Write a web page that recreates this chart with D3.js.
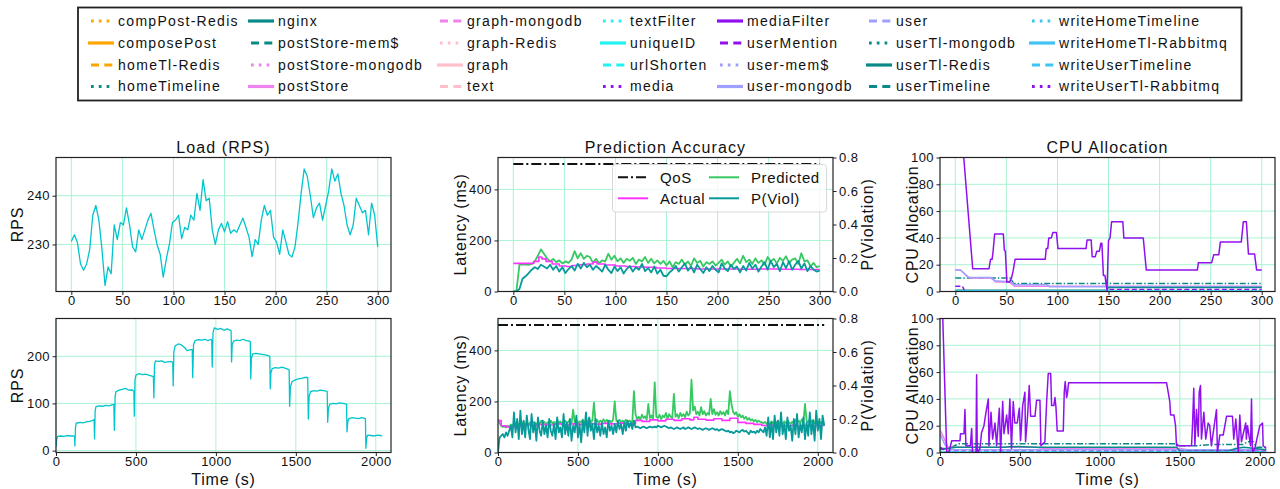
<!DOCTYPE html>
<html>
<head>
<meta charset="utf-8">
<script src="https://cdn.jsdelivr.net/npm/d3@7"></script>
<style>
  body { margin: 0; background: #fff; }
  text { font-family: "Liberation Sans", Arial, sans-serif; fill: #111; }
</style>
</head>
<body>
<svg id="chart" width="1280" height="489"></svg>
<script>
// ---- legend of services (column-major, 4 rows x 7 columns)
var serviceNames = ["compPost-Redis", "composePost", "homeTl-Redis", "homeTimeline",
  "nginx", "postStore-mem$", "postStore-mongodb", "postStore",
  "graph-mongodb", "graph-Redis", "graph", "text",
  "textFilter", "uniqueID", "urlShorten", "media",
  "mediaFilter", "userMention", "user-mem$", "user-mongodb",
  "user", "userTl-mongodb", "userTl-Redis", "userTimeline",
  "writeHomeTimeline", "writeHomeTl-Rabbitmq", "writeUserTimeline", "writeUserTl-Rabbitmq"];
var serviceColors = ["#ffa500", "#ffa500", "#ffa500", "#088a88",
  "#088a88", "#088a88", "#ee82ee", "#ee82ee",
  "#ee82ee", "#ffc0cb", "#ffc0cb", "#ffc0cb",
  "#22f2f2", "#22f2f2", "#22f2f2", "#9010ee",
  "#9010ee", "#9010ee", "#9f9fff", "#9f9fff",
  "#9f9fff", "#088a88", "#088a88", "#088a88",
  "#3ec3f3", "#3ec3f3", "#3ec3f3", "#9010ee"];
var serviceStyles = ["dot", "solid", "dash", "dot",
  "solid", "dash", "dot", "solid",
  "dash", "dot", "solid", "dash",
  "dot", "solid", "dash", "dot",
  "solid", "dash", "dot", "solid",
  "dash", "dot", "solid", "dash",
  "dot", "solid", "dash", "dot"];

// ---- Load (RPS), short run: one value every 3 s
var loadShortStep = 3;
var loadShortRps = [230.6, 232, 230.4, 226, 224.7, 226, 229, 236, 238, 235,
  229, 221.6, 225.4, 224, 234, 231, 234.5, 234, 237.5, 234,
  229.5, 228.5, 233, 231, 233, 235, 236.4, 233, 229.9, 228,
  223.3, 227, 230, 234.5, 235, 236, 231.2, 233.5, 233, 236,
  235, 240.5, 237, 243.3, 239, 239.5, 233, 230, 233, 234.3,
  232.6, 234.7, 232.3, 233, 232.5, 234, 235.4, 233.5, 231.5, 227.5,
  231, 230, 235, 238, 236, 237, 231.5, 230.5, 228, 233,
  230.6, 228, 227.4, 229.5, 234.5, 240.5, 245.5, 244, 240, 235.5,
  237.5, 238.5, 235, 238, 241, 245.5, 243, 244.5, 240.5, 238,
  234, 232, 234, 239.5, 238, 236.5, 237, 232, 238.5, 236, 229.5];

// ---- Load (RPS), long run: [time s, rps]
var loadLong = [[0,8],[5,25],[10,30],[30,31],[50,30],[70,32],[90,31],[110,31],[116,30],[118,10],
  [122,50],[126,58],[150,60],[170,59],[190,61],[210,62],[230,64],[238,66],[241,25],[245,85],
  [250,93],[270,95],[290,94],[310,96],[330,95],[350,97],[362,98],[365,43],[370,115],[375,125],
  [395,128],[415,130],[435,132],[455,128],[475,129],[487,126],[490,73],[494,150],[500,160],[520,163],
  [540,161],[560,162],[580,160],[600,158],[609,157],[612,112],[616,180],[622,190],[640,189],[660,190],
  [680,187],[700,188],[720,189],[730,187],[733,137],[737,210],[745,222],[765,226],[785,224],[805,218],
  [820,212],[845,214],[852,214],[855,155],[860,225],[870,233],[890,235],[910,234],[930,236],[950,233],
  [970,236],[974,232],[977,177],[982,250],[990,260],[1010,257],[1030,259],[1050,255],[1070,258],[1090,255],
  [1095,254],[1098,188],[1102,225],[1110,232],[1130,234],[1150,233],[1170,236],[1190,233],[1210,232],[1215,231],
  [1218,152],[1222,195],[1230,205],[1250,206],[1270,205],[1290,204],[1310,203],[1330,201],[1337,200],[1340,131],
  [1344,165],[1352,174],[1372,176],[1392,175],[1412,177],[1432,175],[1452,172],[1458,171],[1461,94],[1466,135],
  [1476,146],[1496,150],[1516,152],[1536,153],[1556,155],[1574,155],[1578,67],[1583,115],[1592,125],[1612,127],
  [1632,126],[1652,128],[1672,127],[1692,126],[1696,125],[1699,60],[1704,90],[1712,98],[1732,100],[1752,99],
  [1772,101],[1792,100],[1812,99],[1817,98],[1820,40],[1825,62],[1832,68],[1852,70],[1872,69],[1892,68],
  [1912,70],[1935,68],[1938,5],[1943,28],[1950,33],[1970,32],[1990,31],[2010,33],[2030,32],[2040,31]];

// ---- Prediction accuracy, short run (every 3 s)
var qosLatency = 500;
var predShortStep = 3;
var predictedShort = [0, 0, 105, 105, 106, 104, 108, 118, 140, 165,
  148, 130, 118, 128, 115, 122, 110, 118, 112, 125,
  158, 130, 150, 128, 140, 135, 112, 128, 110, 122,
  118, 148, 125, 140, 118, 130, 112, 128, 120, 132,
  108, 125, 118, 135, 112, 128, 110, 122, 108, 120,
  102, 118, 95, 115, 108, 125, 105, 118, 100, 130,
  112, 120, 98, 115, 108, 118, 102, 112, 125, 105,
  118, 98, 112, 128, 110, 140, 115, 125, 108, 130,
  112, 122, 105, 135, 118, 128, 110, 132, 120, 138,
  112, 125, 130, 108, 150, 118, 122, 98, 112, 95, 100];
var pViolShort = [0, 0, 0.015, 0.076, 0.091, 0.11, 0.13, 0.145, 0.134, 0.16,
  0.149, 0.137, 0.16, 0.13, 0.152, 0.119, 0.145, 0.11, 0.134, 0.152,
  0.125, 0.165, 0.137, 0.171, 0.145, 0.16, 0.13, 0.152, 0.137, 0.119,
  0.16, 0.13, 0.11, 0.149, 0.122, 0.145, 0.107, 0.134, 0.152, 0.119,
  0.145, 0.13, 0.165, 0.122, 0.14, 0.114, 0.149, 0.107, 0.13, 0.094,
  0.091, 0.114, 0.13, 0.152, 0.119, 0.145, 0.168, 0.125, 0.149, 0.114,
  0.16, 0.134, 0.11, 0.145, 0.122, 0.152, 0.13, 0.114, 0.168, 0.137,
  0.122, 0.16, 0.134, 0.149, 0.114, 0.152, 0.125, 0.171, 0.137, 0.16,
  0.119, 0.149, 0.175, 0.13, 0.183, 0.145, 0.165, 0.122, 0.175, 0.14,
  0.18, 0.13, 0.16, 0.183, 0.137, 0.168, 0.122, 0.152, 0.13, 0.119, 0.125];
var actualShort = [[0,110],[17,110],[20,118],[25,135],[28,128],[32,118],[38,108],[45,100],[52,98],[58,102],
  [65,105],[72,108],[78,115],[82,108],[90,104],[100,100],[110,98],[120,96],[130,95],[140,92],
  [150,90],[165,90],[180,88],[200,88],[220,87],[240,88],[260,87],[280,86],[300,86]];

// ---- Prediction accuracy, long run (every 10 s)
var predLongStep = 10;
var predictedLong = [130, 115, 105, 100, 102, 98, 105, 100, 110, 105,
  112, 108, 115, 110, 118, 112, 120, 110, 115, 108,
  118, 112, 120, 115, 110, 118, 112, 125, 115, 120,
  110, 118, 112, 125, 115, 120, 110, 128, 115, 122,
  110, 118, 125, 115, 120, 130, 112, 168, 118, 125,
  115, 122, 118, 130, 115, 125, 120, 135, 118, 125,
  195, 120, 128, 115, 125, 120, 130, 118, 128, 122,
  125, 118, 130, 200, 125, 120, 128, 118, 125, 120,
  128, 118, 125, 122, 118, 240, 150, 130, 140, 128,
  148, 135, 142, 128, 190, 135, 145, 130, 275, 140,
  135, 148, 130, 145, 138, 155, 132, 150, 140, 135,
  230, 140, 150, 135, 155, 142, 150, 138, 160, 145,
  152, 285, 165, 180, 150, 160, 145, 178, 150, 162,
  145, 155, 148, 210, 150, 170, 148, 158, 145, 162,
  150, 158, 145, 165, 150, 240, 190, 160, 150, 158,
  140, 150, 138, 145, 132, 140, 128, 135, 125, 130,
  122, 128, 118, 125, 120, 118, 115, 120, 112, 118,
  110, 122, 115, 120, 112, 125, 115, 118, 110, 122,
  115, 125, 118, 112, 120, 115, 128, 118, 125, 115,
  130, 120, 190, 125, 118, 130, 120, 128, 115, 125,
  118, 122, 115, 120, 110];
var pViolLong = [0, 0.09, 0.1, 0.11, 0.09, 0.12, 0.1, 0.13, 0.16, 0.09,
  0.24, 0.12, 0.2, 0.08, 0.25, 0.11, 0.19, 0.09, 0.22, 0.14,
  0.08, 0.23, 0.12, 0.18, 0.07, 0.21, 0.13, 0.1, 0.19, 0.11,
  0.16, 0.09, 0.2, 0.13, 0.1, 0.17, 0.08, 0.21, 0.12, 0.15,
  0.09, 0.23, 0.11, 0.18, 0.1, 0.2, 0.07, 0.16, 0.12, 0.22,
  0.09, 0.17, 0.06, 0.19, 0.12, 0.24, 0.1, 0.21, 0.13, 0.17,
  0.08, 0.2, 0.12, 0.16, 0.1, 0.18, 0.11, 0.15, 0.09, 0.19,
  0.13, 0.16, 0.11, 0.17, 0.12, 0.19, 0.14, 0.17, 0.11, 0.18,
  0.13, 0.19, 0.15, 0.18, 0.14, 0.19, 0.15, 0.155, 0.15, 0.145,
  0.15, 0.155, 0.15, 0.145, 0.15, 0.155, 0.15, 0.15, 0.155, 0.15,
  0.16, 0.155, 0.15, 0.155, 0.16, 0.155, 0.15, 0.145, 0.15, 0.145,
  0.14, 0.145, 0.15, 0.145, 0.14, 0.145, 0.15, 0.14, 0.145, 0.15,
  0.145, 0.14, 0.145, 0.15, 0.145, 0.14, 0.145, 0.14, 0.135, 0.14,
  0.145, 0.14, 0.135, 0.14, 0.145, 0.14, 0.135, 0.14, 0.13, 0.135,
  0.14, 0.135, 0.13, 0.125, 0.13, 0.12, 0.125, 0.115, 0.12, 0.13,
  0.125, 0.12, 0.13, 0.135, 0.125, 0.13, 0.12, 0.11, 0.13, 0.12,
  0.125, 0.115, 0.13, 0.12, 0.14, 0.13, 0.12, 0.15, 0.1, 0.21,
  0.09, 0.18, 0.08, 0.22, 0.12, 0.19, 0.1, 0.24, 0.11, 0.17,
  0.08, 0.21, 0.13, 0.16, 0.07, 0.2, 0.11, 0.23, 0.09, 0.17,
  0.12, 0.21, 0.08, 0.18, 0.1, 0.24, 0.11, 0.19, 0.07, 0.25,
  0.13, 0.2, 0.08, 0.22, 0.16];
var actualLong = [[0,125],[20,105],[50,100],[100,104],[150,108],[200,106],[250,110],[300,108],[350,112],[400,108],
  [450,112],[500,110],[550,113],[600,111],[650,114],[700,112],[750,115],[800,112],[850,114],[860,126],
  [900,122],[950,128],[1000,124],[1050,130],[1100,126],[1150,132],[1200,128],[1225,138],[1250,130],[1300,127],
  [1350,132],[1400,126],[1450,134],[1500,118],[1550,114],[1600,110],[1650,106],[1700,108],[1750,104],[1800,107],
  [1850,103],[1900,106],[1950,104],[2000,106],[2040,104]];

// ---- CPU allocation, short run: [time s, cpu]
var cpuShort = {
  "userTl-mongodb": [[0,10],[54,10],[57,6],[300,6]],
  "postStore": [[0,16],[5,16],[12,11],[15,10],[35,10],[40,7],[53,7],[58,4],[300,4]],
  "user-mongodb": [[0,16],[5,16],[13,10.5],[35,10.5],[39,8],[55,7],[58,5],[90,5],[92,3.5],[300,3.5]],
  "userTl-Redis": [[0,1],[148,1],[150,3],[300,3]],
  "userMention": [[0,4],[7,4],[9,0.5],[148,0.5],[150,1.5],[300,1.5]],
  "uniqueID": [[0,0.3],[300,0.3]],
  "writeHomeTimeline": [[0,0.6],[300,0.6]],
  "mediaFilter": [[7,112],[17,17],[33,17],[34.5,24],[36,24],[37,30],[38.5,43],[47,43],[48,31],[49,30],
    [50.5,7],[53,7],[55,10],[56.5,15],[58.5,24],[88,24],[89,32],[90.5,32],[91.5,40],[94,40],
    [95.5,44],[99,44],[100.5,32],[128,32],[129,38.5],[133,38.5],[134,26],[137,26],[138.5,30],[141,30],
    [142.5,36],[143.5,36],[145,12],[146.5,12],[148.5,1],[150,38],[151.5,40],[153,52],[164,52],[165,40],
    [184,40],[185.5,28],[187,16],[237,16],[238,21.5],[251,21.5],[253,27.5],[258,27.5],[259.5,37],[280,37],
    [282,52],[285,52],[287,28],[293,28],[295,16],[300,16]]
};
// ---- CPU allocation, long run
var cpuLong = {
  "userTl-mongodb": [[0,3],[50,3],[90,5],[120,6.5],[1480,6.5],[1500,5],[1600,5],[1700,6],[1900,6],[1920,8],[1960,8],[1980,4],[2040,4]],
  "postStore": [[0,17],[20,12],[50,4],[600,4],[650,3],[1500,3],[1550,2],[2040,2]],
  "user-mongodb": [[0,14],[30,6],[60,2],[2040,2]],
  "userTl-Redis": [[0,2],[100,4],[400,4],[450,4.5],[600,4],[1480,4],[1500,1],[1800,1],[1850,3],[1900,4],[2040,2]],
  "userMention": [[0,4],[40,1],[2040,1]],
  "uniqueID": [[0,0.3],[2040,0.3]],
  "writeHomeTimeline": [[0,0.6],[2040,0.6]],
  "mediaFilter": [[10,130],[42,0],[55,0],[73,8.7],[125,8.7],[128,14],[150,14],[156,32],[162,5],[190,5],
    [198,18],[203,0],[225,0],[229,58],[233,0],[250,3],[260,15],[275,20],[285,28],[302,40],
    [306,5],[319,30],[329,10],[344,22],[354,5],[371,33],[379,0],[392,38],[400,14],[417,28],
    [427,14],[437,40],[447,3],[458,38],[468,22],[483,22],[496,33],[504,9],[517,35],[531,45],
    [535,8],[548,28],[558,50],[567,27],[594,27],[604,39],[625,39],[631,5],[656,8],[667,38],
    [677,59],[692,59],[698,35],[712,35],[719,41],[725,34],[733,16],[771,16],[777,45],[783,53],
    [792,41],[798,45],[804,52],[1417,52],[1427,45],[1437,38],[1442,28],[1463,28],[1473,20],[1479,5],
    [1573,5],[1579,20],[1587,48],[1594,5],[1604,32],[1615,12],[1621,45],[1629,50],[1635,10],[1650,30],
    [1662,10],[1677,22],[1687,20],[1697,5],[1729,32],[1735,0],[1750,13],[1771,13],[1792,27],[1829,27],
    [1837,10],[1850,25],[1865,0],[1875,28],[1885,8],[1912,22],[1916,10],[1923,20],[1942,5],[1948,40],
    [1954,0],[1969,3],[2000,20],[2017,22],[2021,5],[2040,3]]
};

var shortTicks = [0, 50, 100, 150, 200, 250, 300];
var longTicks = [0, 500, 1000, 1500, 2000];

// ---- layout
var svg = d3.select("#chart");
var W = 335, H = 134;
var colX = [56, 498, 940], rowY = [157.5, 318.5];
var GRID = "#a9f3d2";
// legend handle dashes: [pattern, offset] so that each handle starts with a small gap
var dashOf = { solid: [null, 0], dot: ["2.7,5.1", 4.8], dash: ["8,5.3", 10.3] };

function styleAxis(a) {
  a.select(".domain").remove();
  a.selectAll(".tick line").attr("stroke", "#222");
  a.selectAll(".tick text").style("font-size", "13px").style("letter-spacing", "0.4px").attr("fill", "#111");
}

function panel(col, row, xDomain, yDomain, xTicks, yTicks, id) {
  var g = svg.append("g").attr("transform", "translate(" + colX[col] + "," + rowY[row] + ")");
  var x = d3.scaleLinear().domain(xDomain).range([0, W]);
  var y = d3.scaleLinear().domain(yDomain).range([H, 0]);
  var grid = g.append("g");
  grid.selectAll(".gx").data(xTicks).join("line")
    .attr("x1", function(d){return x(d);}).attr("x2", function(d){return x(d);})
    .attr("y1", 0).attr("y2", H).attr("stroke", GRID).attr("stroke-width", 1);
  grid.selectAll(".gy").data(yTicks).join("line")
    .attr("y1", function(d){return y(d);}).attr("y2", function(d){return y(d);})
    .attr("x1", 0).attr("x2", W).attr("stroke", GRID).attr("stroke-width", 1);
  svg.append("clipPath").attr("id", id).append("rect").attr("width", W).attr("height", H);
  var plot = g.append("g").attr("clip-path", "url(#" + id + ")");
  var ax = g.append("g").attr("transform", "translate(0," + H + ")")
    .call(d3.axisBottom(x).tickValues(xTicks).tickSize(3.5).tickPadding(0.5).tickFormat(d3.format("d")));
  var ay = g.append("g")
    .call(d3.axisLeft(y).tickValues(yTicks).tickSize(3.5).tickPadding(2.5).tickFormat(d3.format("d")));
  styleAxis(ax); styleAxis(ay);
  g.append("rect").attr("width", W).attr("height", H)
    .attr("fill", "none").attr("stroke", "#222").attr("stroke-width", 1.2);
  return { g: g, x: x, y: y, plot: plot };
}

function sampled(values, step) {
  return values.map(function(v, i){ return [i * step, v]; });
}

function drawLine(p, data, yScale, color, width, dash, curve) {
  var line = d3.line()
    .x(function(d){ return p.x(d[0]); })
    .y(function(d){ return yScale(d[1]); })
    .curve(curve || d3.curveLinear);
  p.plot.append("path").datum(data).attr("d", line)
    .attr("fill", "none").attr("stroke", color).attr("stroke-width", width)
    .attr("stroke-dasharray", dash).attr("stroke-linejoin", "round");
}

function yLabel(text, x, row) {
  svg.append("text").attr("transform", "translate(" + x + "," + (rowY[row] + H / 2) + ") rotate(-90)")
    .attr("text-anchor", "middle").attr("dominant-baseline", "central")
    .style("font-size", "16px").style("letter-spacing", "0.8px").text(text);
}

// ---- titles
[["Load (RPS)", 0], ["Prediction Accuracy", 1], ["CPU Allocation", 2]].forEach(function(t) {
  svg.append("text").attr("x", colX[t[1]] + W / 2).attr("y", rowY[0] - 5)
    .attr("text-anchor", "middle").style("font-size", "16px").style("letter-spacing", "1.1px").text(t[0]);
});
[0, 1, 2].forEach(function(c) {
  svg.append("text").attr("x", colX[c] + W / 2).attr("y", 485)
    .attr("text-anchor", "middle").style("font-size", "16px").style("letter-spacing", "0.8px").text("Time (s)");
});

// ---- Load panels
var LOAD = "#00c5cd";
var p1 = panel(0, 0, [-15, 313], [220.35, 247.85], shortTicks, [230, 240], "c1");
drawLine(p1, sampled(loadShortRps, loadShortStep), p1.y, LOAD, 1.3, null);
var p2 = panel(0, 1, [0, 2095], [-4, 280], longTicks, [0, 100, 200], "c2");
drawLine(p2, loadLong, p2.y, LOAD, 1.3, null);
yLabel("RPS", 17, 0);
yLabel("RPS", 17, 1);

// ---- Prediction panels
var GREEN = "#37c961", MAGENTA = "#ff33ff", TEAL = "#079a9a";
var QOSDASH = "10,3,2,3";
function predictionPanel(row, xDomain, xTicks, predicted, step, actual, pviol, id) {
  var p = panel(1, row, xDomain, [0, 525], xTicks, [0, 200, 400], id);
  var yP = d3.scaleLinear().domain([0, 0.8]).range([H, 0]);
  var ar = p.g.append("g").attr("transform", "translate(" + W + ",0)")
    .call(d3.axisRight(yP).tickValues([0, 0.2, 0.4, 0.6, 0.8]).tickSize(3.5).tickPadding(2.5).tickFormat(d3.format(".1f")));
  styleAxis(ar);
  var xMax = d3.max(actual, function(d){ return d[0]; });
  drawLine(p, [[0, qosLatency], [xMax, qosLatency]], p.y, "#111", 2, QOSDASH);
  drawLine(p, sampled(predicted, step), p.y, GREEN, 1.8, null);
  drawLine(p, actual, p.y, MAGENTA, 1.6, null, d3.curveStepAfter);
  drawLine(p, sampled(pviol, step), yP, TEAL, 1.8, null);
  yLabel("Latency (ms)", 460, row);
  yLabel("P(Violation)", 867, row);
  return p;
}
predictionPanel(0, [-15, 313], shortTicks, predictedShort, predShortStep, actualShort, pViolShort, "c3");
predictionPanel(1, [0, 2095], longTicks, predictedLong, predLongStep, actualLong, pViolLong, "c4");

// legend inside the short prediction panel
var lg = svg.append("g");
lg.append("rect").attr("x", 612.5).attr("y", 164.5).attr("width", 214).attr("height", 47.5).attr("rx", 3)
  .attr("fill", "#fff").attr("fill-opacity", 0.8).attr("stroke", "#d8d8d8");
var predLegend = [
  { label: "QoS", color: "#111", dash: QOSDASH, hx: 618, ty: 177.3 },
  { label: "Actual", color: MAGENTA, dash: null, hx: 618, ty: 198.3 },
  { label: "Predicted", color: GREEN, dash: null, hx: 709, ty: 177.3 },
  { label: "P(Viol)", color: TEAL, dash: null, hx: 709, ty: 198.3 }
];
predLegend.forEach(function(e) {
  lg.append("line").attr("x1", e.hx).attr("x2", e.hx + 30).attr("y1", e.ty).attr("y2", e.ty)
    .attr("stroke", e.color).attr("stroke-width", 2).attr("stroke-dasharray", e.dash);
  lg.append("text").attr("x", e.hx + 42).attr("y", e.ty).attr("dy", "0.35em")
    .style("font-size", "15px").style("letter-spacing", "0.6px").text(e.label);
});

// ---- CPU panels
function cpuPanel(row, xDomain, xTicks, series, id) {
  var p = panel(2, row, xDomain, [0, 100], xTicks, [0, 20, 40, 60, 80, 100], id);
  Object.keys(series).forEach(function(name) {
    var i = serviceNames.indexOf(name);
    var dash = name === "userTl-mongodb" ? "6,2,1.5,2" : (serviceStyles[i] === "dot" ? "1.5,2.5" : (serviceStyles[i] === "dash" ? "5,2.5" : null));
    drawLine(p, series[name], p.y, serviceColors[i], 1.5, dash);
  });
  yLabel("CPU Allocation", 912, row);
  return p;
}
cpuPanel(0, [-15, 313], shortTicks, cpuShort, "c5");
cpuPanel(1, [0, 2095], longTicks, cpuLong, "c6");

// ---- services legend
var legendColX = [88, 248, 437, 600, 717, 866, 1029];
var legendRowY = [21, 43, 65, 86.5];
var leg = svg.append("g");
leg.append("rect").attr("x", 78).attr("y", 7.5).attr("width", 1163.5).attr("height", 93)
  .attr("fill", "#fff").attr("stroke", "#222").attr("stroke-width", 1.8);
serviceNames.forEach(function(name, i) {
  var cx = legendColX[Math.floor(i / 4)], cy = legendRowY[i % 4];
  var ds = dashOf[serviceStyles[i]];
  leg.append("line").attr("x1", cx).attr("x2", cx + 26).attr("y1", cy).attr("y2", cy)
    .attr("stroke", serviceColors[i]).attr("stroke-width", 3.2)
    .attr("stroke-dasharray", ds[0]).attr("stroke-dashoffset", ds[1]);
  leg.append("text").attr("x", cx + 30).attr("y", cy).attr("dy", "0.35em")
    .style("font-size", "14px").style("letter-spacing", "1.3px").text(name);
});
</script>
</body>
</html>
